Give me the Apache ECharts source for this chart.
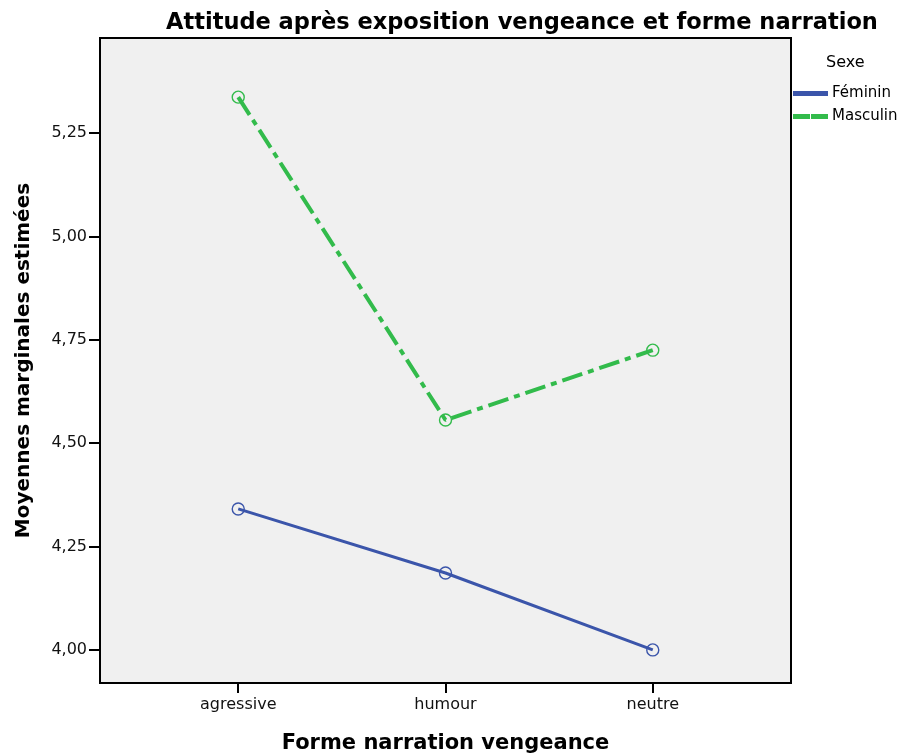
<!DOCTYPE html>
<html>
<head>
<meta charset="utf-8">
<script src="https://cdn.jsdelivr.net/npm/echarts@6/dist/echarts.min.js"></script>
<style>
  html, body { margin: 0; padding: 0; background: #fff; }
  #main { width: 906px; height: 755px; }
</style>
</head>
<body>
<div id="main"></div>
<script>
const categories = ['agressive', 'humour', 'neutre'];
const feminin = [4.341, 4.186, 4.000];
const masculin = [5.337, 4.556, 4.725];
const yTicks = [4.00, 4.25, 4.50, 4.75, 5.00, 5.25];
const catTicks = [0, 1, 2];

const blue = '#3b55aa';
const green = '#32bb4b';
const font = 'DejaVu Sans';

const chart = echarts.init(document.getElementById('main'));

const toPoints = arr => arr.map((v, i) => [i, v]);

const option = {
  backgroundColor: '#ffffff',
  animation: false,
  title: [
    {
      text: 'Attitude après exposition vengeance et forme narration',
      left: 161,
      top: 7,
      textStyle: { fontFamily: font, fontSize: 22.5, fontWeight: 'bold', color: '#000' }
    },
    {
      text: 'Sexe',
      left: 821,
      top: 50,
      textStyle: { fontFamily: font, fontSize: 16, fontWeight: 'normal', color: '#000' }
    }
  ],
  legend: {
    orient: 'vertical',
    left: 793,
    top: 86,
    padding: 0,
    itemWidth: 33,
    itemHeight: 3,
    itemGap: 8,
    textStyle: { fontFamily: font, fontSize: 15, color: '#000' },
    data: [
      { name: 'Féminin', icon: 'rect', itemStyle: { color: blue } },
      { name: 'Masculin', icon: 'path://M0,0h15v3h-15z M18,0h15v3h-15z', itemStyle: { color: green } }
    ]
  },
  grid: {
    left: 100,
    right: 115,
    top: 38,
    bottom: 72,
    outerBoundsMode: 'none',
    containLabel: false,
    show: true,
    backgroundColor: '#f0f0f0',
    borderColor: '#000',
    borderWidth: 2
  },
  xAxis: {
    type: 'value',
    min: -0.667,
    max: 2.667,
    name: 'Forme narration vengeance',
    nameLocation: 'middle',
    nameGap: 50,
    nameTextStyle: { fontFamily: font, fontSize: 21, fontWeight: 'bold', color: '#000' },
    axisLine: { show: false, onZero: false },
    splitLine: { show: false },
    axisTick: { show: true, length: 10, customValues: catTicks, lineStyle: { color: '#000', width: 2 } },
    axisLabel: {
      customValues: catTicks,
      margin: 14,
      fontFamily: font,
      fontSize: 16,
      color: '#111',
      formatter: v => categories[Math.round(v)]
    }
  },
  yAxis: {
    type: 'value',
    min: 3.92,
    max: 5.48,
    name: 'Moyennes marginales estimées',
    nameLocation: 'middle',
    nameRotate: 90,
    nameGap: 66,
    nameTextStyle: { fontFamily: font, fontSize: 20, fontWeight: 'bold', color: '#000' },
    axisLine: { show: false, onZero: false },
    splitLine: { show: false },
    axisTick: { show: true, length: 11, customValues: yTicks, lineStyle: { color: '#000', width: 2 } },
    axisLabel: {
      customValues: yTicks,
      margin: 13,
      fontFamily: font,
      fontSize: 16,
      color: '#111',
      formatter: v => v.toFixed(2).replace('.', ',')
    }
  },
  series: [
    {
      name: 'Féminin',
      type: 'line',
      data: toPoints(feminin),
      symbol: 'circle',
      symbolSize: 12,
      lineStyle: { color: blue, width: 3 },
      itemStyle: { color: 'rgba(0,0,0,0)', borderColor: blue, borderWidth: 1.4 },
      z: 3
    },
    {
      name: 'Masculin',
      type: 'line',
      data: toPoints(masculin),
      symbol: 'circle',
      symbolSize: 12,
      lineStyle: { color: green, width: 4, type: [21, 6, 6, 6] },
      itemStyle: { color: 'rgba(0,0,0,0)', borderColor: green, borderWidth: 1.4 },
      z: 3
    }
  ]
};

chart.setOption(option);
</script>
</body>
</html>
